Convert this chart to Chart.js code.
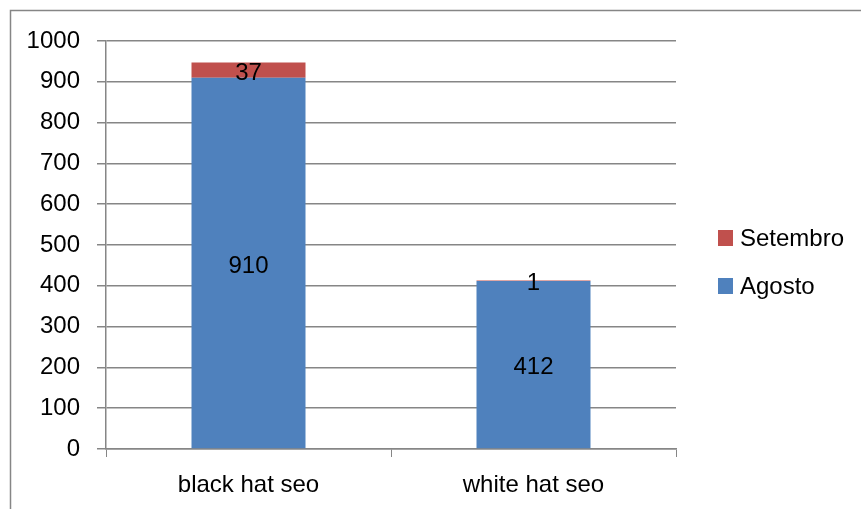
<!DOCTYPE html>
<html>
<head>
<meta charset="utf-8">
<script src="https://cdn.jsdelivr.net/npm/chart.js@4"></script>
<style>
	body { margin: 0; background: #fff; }
	canvas { display: block; }
</style>
</head>
<body>
<canvas id="myChart" width="861" height="509"></canvas>
<script>
	var categorias = [ 'black hat seo', 'white hat seo' ];
	var agosto = [ 910, 412 ];
	var setembro = [ 37, 1 ];
	var yTicks = [ 0, 100, 200, 300, 400, 500, 600, 700, 800, 900, 1000 ];

	var fonte = { family : '"Liberation Sans", Arial, sans-serif', size : 24 };
	var cinza = '#868686';

	// moldura cinza em volta do grafico
	var moldura = {
		id : 'moldura',
		beforeDraw : function(chart) {
			var c = chart.ctx;
			c.save();
			c.fillStyle = '#fff';
			c.fillRect(0, 0, chart.width, chart.height);
			c.strokeStyle = cinza;
			c.lineWidth = 1.5;
			c.strokeRect(10.5, 10.5, chart.width + 20, chart.height + 20);
			c.restore();
		}
	};

	// valores no meio de cada barra
	var rotulos = {
		id : 'rotulos',
		afterDatasetsDraw : function(chart) {
			var c = chart.ctx;
			c.save();
			c.font = fonte.size + 'px ' + fonte.family;
			c.fillStyle = '#000';
			c.textAlign = 'center';
			c.textBaseline = 'middle';
			chart.data.datasets.forEach(function(ds, i) {
				chart.getDatasetMeta(i).data.forEach(function(bar, j) {
					var p = bar.getCenterPoint();
					c.fillText(ds.data[j], p.x, p.y + 3);
				});
			});
			c.restore();
		}
	};

	// legenda a direita (Setembro em cima)
	var legenda = {
		id : 'legenda',
		afterDraw : function(chart) {
			var c = chart.ctx;
			var ds = chart.data.datasets.slice().reverse();
			c.save();
			c.font = fonte.size + 'px ' + fonte.family;
			c.textBaseline = 'middle';
			ds.forEach(function(d, i) {
				var y = 238 + i * 48;
				c.fillStyle = d.backgroundColor;
				c.fillRect(718, y - 8, 15, 16);
				c.fillStyle = '#000';
				c.fillText(d.label, 740, y + 1);
			});
			c.restore();
		}
	};

	var ctx = document.getElementById('myChart');
	var myChart = new Chart(ctx, {
		type : 'bar',
		data : {
			labels : categorias,
			datasets : [ {
				label : 'Agosto',
				data : agosto,
				backgroundColor : '#4F81BD'
			}, {
				label : 'Setembro',
				data : setembro,
				backgroundColor : '#C0504D'
			} ]
		},
		options : {
			responsive : false,
			animation : false,
			layout : { padding : { left : 0, top : 41, right : 185, bottom : 0 } },
			categoryPercentage : 1,
			barPercentage : 0.4,
			plugins : {
				legend : { display : false },
				tooltip : { enabled : false }
			},
			scales : {
				x : {
					stacked : true,
					afterFit : function(s) { s.height = 60; },
					grid : { offset : true, drawOnChartArea : false, tickLength : 8, color : cinza },
					border : { color : cinza, width : 1.5 },
					ticks : { color : '#000', font : fonte, padding : 14 }
				},
				y : {
					stacked : true,
					min : 0,
					max : 1000,
					afterFit : function(s) { s.width = 106; },
					afterBuildTicks : function(s) {
						s.ticks = yTicks.map(function(v) { return { value : v }; });
					},
					grid : { color : cinza, lineWidth : 1.5, tickLength : 9 },
					border : { color : cinza, width : 1.5 },
					ticks : {
						color : '#000',
						font : fonte,
						padding : 17,
						callback : function(v) { return String(v); }
					}
				}
			}
		},
		plugins : [ moldura, rotulos, legenda ]
	});
</script>
</body>
</html>
